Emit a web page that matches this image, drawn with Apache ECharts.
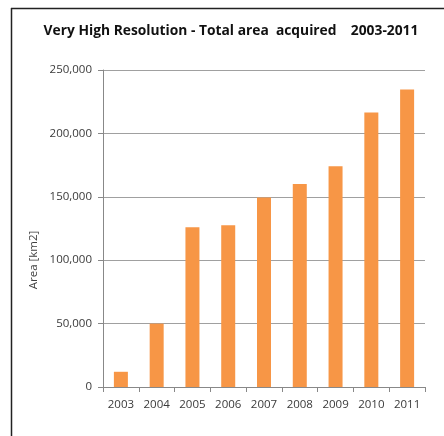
<!DOCTYPE html>
<html>
<head>
<meta charset="utf-8">
<script src="https://cdn.jsdelivr.net/npm/echarts@6/dist/echarts.min.js"></script>
<style>
html,body{margin:0;padding:0;background:#fff;}
#c{width:444px;height:436px;}
</style>
</head>
<body>
<div id="c"></div>
<script>
const years = ['2003','2004','2005','2006','2007','2008','2009','2010','2011'];
const areaKm2 = [12000, 50000, 126000, 127500, 149500, 160000, 174000, 216500, 234700];
const yTicks = {min: 0, max: 250000, interval: 50000};

const chart = echarts.init(document.getElementById('c'), null, {renderer: 'canvas'});
chart.setOption({
  backgroundColor: '#fff',
  animation: false,
  title: {
    text: 'Very High Resolution - Total area  acquired    2003-2011',
    left: 226, top: 19, textAlign: 'center',
    textStyle: {fontFamily: 'Open Sans', fontWeight: 'bold', fontSize: 13.8, color: '#111'}
  },
  graphic: [
    {type: 'line', shape: {x1: 11, y1: 8.5, x2: 444, y2: 8.5}, style: {stroke: '#222', lineWidth: 1.5}},
    {type: 'line', shape: {x1: 11.5, y1: 8, x2: 11.5, y2: 436}, style: {stroke: '#222', lineWidth: 1.5}},
    {type: 'text', x: 34, y: 260, rotation: Math.PI / 2,
      style: {text: 'Area [km2]', font: '11.5px "Open Sans"', fill: '#404040', align: 'center', verticalAlign: 'middle'}}
  ],
  grid: {left: 103, right: 19, top: 70, bottom: 49},
  xAxis: {
    type: 'category', data: years,
    axisLine: {lineStyle: {color: '#888'}},
    axisTick: {show: true, inside: false, length: 5, alignWithLabel: false, lineStyle: {color: '#888'}},
    axisLabel: {color: '#3a3a3a', fontFamily: 'Open Sans', fontSize: 11.5, margin: 12}
  },
  yAxis: {
    type: 'value', min: yTicks.min, max: yTicks.max, interval: yTicks.interval,
    axisLine: {show: true, lineStyle: {color: '#888'}},
    axisTick: {show: true, length: 5, lineStyle: {color: '#888'}},
    splitLine: {lineStyle: {color: '#a0a0a0'}},
    axisLabel: {color: '#3a3a3a', fontFamily: 'Open Sans', fontSize: 11.5, margin: 11,
      formatter: v => v.toLocaleString('en-US')}
  },
  series: [{
    type: 'bar', data: areaKm2, barWidth: 14,
    itemStyle: {color: '#F79646'}
  }]
});
</script>
</body>
</html>
